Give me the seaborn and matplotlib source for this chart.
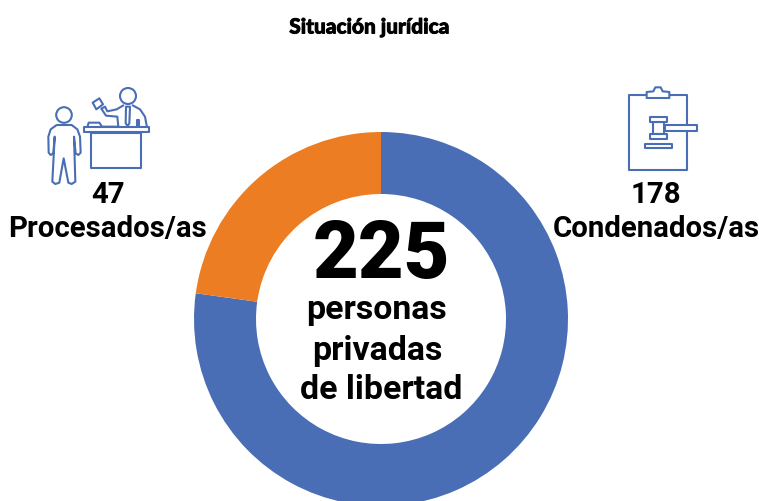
import matplotlib
matplotlib.use('Agg')
import matplotlib.pyplot as plt
import matplotlib.patches as mpatches
import matplotlib.patheffects as pe
import seaborn as sns

# Data
categories = ['Condenados/as', 'Procesados/as']
counts = [178, 47]
# slice sizes as drawn in the picture (the orange slice is wider than 47/225)
slice_shares = [77.2, 22.8]
slice_colors = ['#4A6EB5', '#ED7D22']
total = 225
title = 'Situación jurídica'
center_lines = ['personas', 'privadas', 'de libertad']

sns.set_theme(style='white')
plt.rcParams['font.family'] = ['Roboto', 'DejaVu Sans']

W, H = 759, 501
ICON = '#4A6EB5'
fig = plt.figure(figsize=(W / 100, H / 100), dpi=100, facecolor='white')

# donut, runs off the bottom edge of the figure
cx, cy, r = 381, 319, 187
ax = fig.add_axes([(cx - r) / W, (H - cy - r) / H, 2 * r / W, 2 * r / H])
ax.pie(slice_shares, colors=slice_colors, startangle=90, counterclock=False,
       radius=1, wedgeprops=dict(width=62 / 187, linewidth=0))
ax.set_xlim(-1, 1)
ax.set_ylim(-1, 1)
ax.set_aspect('equal')
ax.axis('off')

# overlay in pixel coordinates for text and icons
ov = fig.add_axes([0, 0, 1, 1], facecolor='none')
ov.set_xlim(0, W)
ov.set_ylim(H, 0)
ov.axis('off')

ov.text(369.5, 27, title, family=['Lato', 'DejaVu Sans'], weight='black', fontsize=15,
        ha='center', va='center', color='black',
        path_effects=[pe.withStroke(linewidth=0.6, foreground='black')])
ov.text(381, 256, str(total), weight='black', fontsize=57, ha='center', va='center', color='black')
for txt, yy, xx in zip(center_lines, [310, 351, 390], [377, 377, 381]):
    ov.text(xx, yy, txt, weight='bold', fontsize=24.4, ha='center', va='center', color='black')

ov.text(108, 195, str(counts[1]), weight='bold', fontsize=21.2, ha='center', va='center', color='black')
ov.text(108, 229, categories[1], weight='bold', fontsize=21.2, ha='center', va='center', color='black')
ov.text(656, 195, str(counts[0]), weight='bold', fontsize=21.2, ha='center', va='center', color='black')
ov.text(656, 229, categories[0], weight='bold', fontsize=21.2, ha='center', va='center', color='black')


def left(pts):
    return [(x / 3, y / 3 + 70) for x, y in pts]


def right(pts):
    return [(x / 3 + 550, y / 3 + 70) for x, y in pts]


def line(pts, closed=False):
    ov.add_patch(mpatches.Polygon(pts, closed=closed, fill=closed, facecolor='white',
                                  edgecolor=ICON, lw=1.5, joinstyle='round'))


# person and judge
ov.add_patch(mpatches.Circle((64, 115), 7.8, fill=False, ec=ICON, lw=1.5))
line(left([(170, 165), (215, 165), (232, 178), (240, 200), (242, 248), (235, 255), (227, 250),
           (222, 200), (226, 335), (215, 342), (205, 338), (191, 265), (178, 338), (166, 342),
           (157, 335), (164, 200), (160, 250), (152, 255), (146, 248), (145, 200), (152, 178)]), True)
ov.add_patch(mpatches.Circle((128, 96), 8, fill=False, ec=ICON, lw=1.5))
line(left([(355, 170), (352, 140), (318, 137), (304, 116), (315, 110), (322, 124), (350, 118), (372, 105)]))
line(left([(396, 105), (420, 118), (435, 140), (441, 172)]))
line(left([(278, 98), (298, 85), (309, 103), (289, 118)]), True)
line(left([(378, 110), (390, 110), (388, 160), (383, 168), (377, 160)]), True)
line(left([(412, 150), (418, 150), (418, 172), (412, 172)]), True)
line(left([(262, 172), (266, 158), (298, 158), (306, 170), (355, 170)]))
line(left([(252, 172), (446, 172), (446, 185), (252, 185)]), True)
line(left([(272, 190), (424, 190), (424, 294), (272, 294)]), True)

# clipboard and gavel
line(right([(236, 74), (412, 74), (412, 300), (236, 300)]), True)
line(right([(290, 84), (290, 66), (310, 64), (316, 52), (332, 52), (338, 64), (358, 66), (358, 84)]), True)
line(right([(345, 165), (440, 165), (440, 184), (345, 184)]), True)
line(right([(310, 156), (342, 156), (342, 192), (310, 192)]), True)
line(right([(300, 140), (352, 140), (352, 156), (300, 156)]), True)
line(right([(300, 192), (350, 192), (350, 208), (300, 208)]), True)
line(right([(285, 222), (367, 222), (367, 233), (285, 233)]), True)

fig.savefig('out.png', dpi=100)
